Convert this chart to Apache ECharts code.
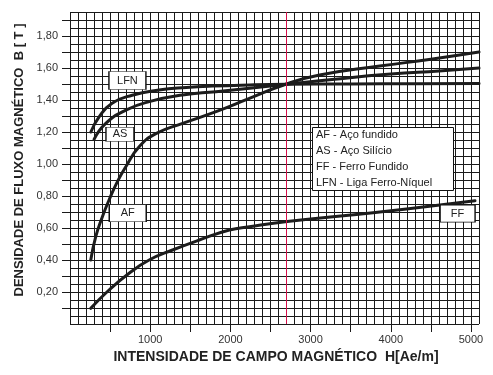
<!DOCTYPE html>
<html>
<head>
<meta charset="utf-8">
<script src="https://cdn.jsdelivr.net/npm/echarts@6/dist/echarts.min.js"></script>
<style>html,body{margin:0;padding:0;background:#fff}#c{width:493px;height:375px}</style>
</head>
<body>
<div id="c"></div>
<script>
// ---- data (H in Ae/m, B in T) ----
const lfnH = [260, 363, 525, 775, 1110, 1450, 1775, 2240, 2700, 3500, 4300, 5100];
const lfnB = [1.20, 1.295, 1.38, 1.43, 1.462, 1.478, 1.487, 1.494, 1.498, 1.50, 1.502, 1.503];
const asH = [300, 446, 696, 988, 1400, 1820, 2240, 2700, 3300, 4000, 4600, 5100];
const asB = [1.154, 1.254, 1.337, 1.39, 1.431, 1.452, 1.473, 1.498, 1.53, 1.562, 1.582, 1.60];
const afH = [259, 321, 404, 487, 591, 696, 862, 1071, 1404, 1821, 2237, 2700, 3112, 3862, 4500, 5100];
const afB = [0.40, 0.546, 0.671, 0.775, 0.89, 0.983, 1.108, 1.19, 1.254, 1.327, 1.41, 1.50, 1.556, 1.612, 1.655, 1.70];
const ffH = [259, 487, 737, 987, 1279, 1612, 1987, 2237, 2708, 3779, 4612, 5050];
const ffB = [0.098, 0.2125, 0.317, 0.40, 0.4625, 0.525, 0.5875, 0.608, 0.64, 0.696, 0.744, 0.77];

const xTickVals = [500, 1000, 1500, 2000, 2500, 3000, 3500, 4000, 4500, 5000];
const xLabelVals = [1000, 2000, 3000, 4000, 5000];
const yTickVals = [0.1, 0.2, 0.3, 0.4, 0.5, 0.6, 0.7, 0.8, 0.9, 1.0, 1.1, 1.2, 1.3, 1.4, 1.5, 1.6, 1.7, 1.8, 1.9];
const yLabelVals = [0.2, 0.4, 0.6, 0.8, 1.0, 1.2, 1.4, 1.6, 1.8];

const seriesNames = ['LFN', 'AS', 'AF', 'FF'];
// annotation anchors (data coords) for the small name boxes
const nameAnchors = { LFN: [716, 1.522], AS: [623, 1.186], AF: [720, 0.692], FF: [4833, 0.69] };
const nameBoxSizes = { LFN: [37, 18], AS: [28, 14], AF: [37, 17], FF: [35, 17] };
const legendLines = ['AF - Aço fundido', 'AS - Aço Silício', 'FF - Ferro Fundido', 'LFN - Liga Ferro-Níquel'];
const redMarkH = 2700;

const xTitle = 'INTENSIDADE DE CAMPO MAGNÉTICO  H[Ae/m]';
const yTitle = 'DENSIDADE DE FLUXO MAGNÉTICO  B [ T ]';

const FONT = "'Liberation Sans', Arial, sans-serif";
const INK = '#222';

function pairs(h, b) { return h.map((v, i) => [v, b[i]]); }
const curveData = { LFN: pairs(lfnH, lfnB), AS: pairs(asH, asB), AF: pairs(afH, afB), FF: pairs(ffH, ffB) };

const series = seriesNames.map((name) => ({
  name, type: 'line', xAxisIndex: 0, yAxisIndex: 0,
  data: curveData[name], showSymbol: false, smooth: 0.5,
  lineStyle: { color: '#1c1c1c', width: 3, cap: 'round', join: 'round' }, z: 3,
  markPoint: {
    silent: true, symbol: 'rect', symbolSize: nameBoxSizes[name],
    itemStyle: { color: '#fff', borderColor: '#111', borderWidth: 1 },
    label: { show: true, position: 'inside', formatter: name, color: INK, fontSize: 11, fontFamily: FONT },
    data: [{ coord: nameAnchors[name] }]
  }
}));
series.push({
  type: 'line', data: [], xAxisIndex: 0, yAxisIndex: 0, z: 2,
  markLine: {
    silent: true, symbol: ['none', 'none'], label: { show: false },
    lineStyle: { color: '#d4104a', width: 1, type: 'solid' },
    data: [{ xAxis: redMarkH }]
  }
});

const chart = echarts.init(document.getElementById('c'), null, { renderer: 'canvas' });
chart.setOption({
  animation: false,
  backgroundColor: '#fff',
  grid: { left: 70, top: 12, width: 409, height: 312, containLabel: false },
  xAxis: [
    { type: 'value', min: 0, max: 5100, interval: 100, position: 'bottom',
      axisLine: { show: false }, axisTick: { show: false }, axisLabel: { show: false },
      splitLine: { show: true, lineStyle: { color: '#1a1a1a', width: 1 } } },
    { type: 'value', min: 0, max: 5100, position: 'bottom',
      axisLine: { show: false }, splitLine: { show: false },
      axisTick: { show: true, length: 8, customValues: xTickVals, lineStyle: { color: '#1a1a1a', width: 1 } },
      axisLabel: { show: true, customValues: xLabelVals, margin: 10, fontSize: 11, color: '#333', fontFamily: FONT,
        formatter: (v) => String(Math.round(v)) } }
  ],
  yAxis: [
    { type: 'value', min: 0, max: 1.95, interval: 0.05, position: 'left',
      axisLine: { show: false }, axisTick: { show: false }, axisLabel: { show: false },
      splitLine: { show: true, lineStyle: { color: '#1a1a1a', width: 1 } } },
    { type: 'value', min: 0, max: 1.95, position: 'left',
      axisLine: { show: false }, splitLine: { show: false },
      axisTick: { show: true, length: 8, customValues: yTickVals, lineStyle: { color: '#1a1a1a', width: 1 } },
      axisLabel: { show: true, customValues: yLabelVals, margin: 12, fontSize: 11, color: '#333', fontFamily: FONT,
        formatter: (v) => v.toFixed(2).replace('.', ',') } }
  ],
  title: {
    text: legendLines.join('\n'), left: 312, top: 127,
    padding: [0, 22, 0, 4],
    backgroundColor: '#fff', borderColor: '#111', borderWidth: 1,
    textStyle: { fontSize: 11, fontWeight: 'normal', lineHeight: 16, color: INK, fontFamily: FONT }
  },
  graphic: [
    { type: 'text', x: 19, y: 160, rotation: Math.PI / 2, z: 10,
      style: { text: yTitle, font: 'bold 13px ' + FONT, fill: INK, align: 'center', verticalAlign: 'middle' } },
    { type: 'text', x: 276, y: 357, z: 10,
      style: { text: xTitle, font: 'bold 14px ' + FONT, fill: INK, align: 'center', verticalAlign: 'middle' } }
  ],
  series
});
</script>
</body>
</html>
